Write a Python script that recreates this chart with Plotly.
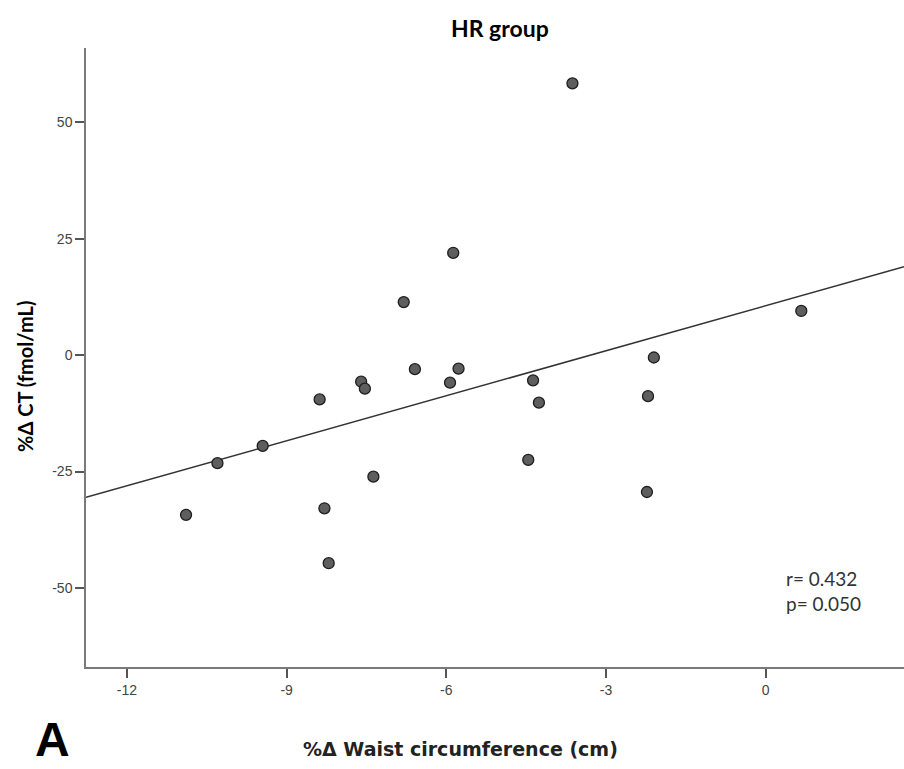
import numpy as np
import plotly.graph_objects as go

# Data
waist_change = [-3.63, -5.87, -6.80, 0.67, -2.10, -6.59, -5.77, -5.93, -4.37, -4.26, -4.46,
                -2.21, -2.23, -7.60, -7.53, -8.38, -9.45, -10.30, -7.37, -10.89, -8.29, -8.21]
ct_change = [58.4, 22.0, 11.4, 9.5, -0.5, -3.0, -2.9, -5.9, -5.4, -10.2, -22.5,
             -8.8, -29.4, -5.7, -7.2, -9.5, -19.5, -23.2, -26.1, -34.3, -32.9, -44.7]
x_ticks = [-12, -9, -6, -3, 0]
y_ticks = [-50, -25, 0, 25, 50]
x_range = [-12.77, 2.6]
y_range = [-67.0, 66.0]
title_text = "HR group"
x_title = "%Δ Waist circumference (cm)"
y_title = "%Δ CT (fmol/mL)"
stats_lines = ["r= 0.432", "p= 0.050"]
panel_label = "A"

# linear fit across the full x axis
slope, intercept = np.polyfit(waist_change, ct_change, 1)
fit_x = np.array(x_range)
fit_y = slope * fit_x + intercept

W, H = 904, 769
L, R, T, B = 86, 0, 48, 102
pw, ph = W - L - R, H - T - B


def px(xp):
    return (xp - L) / pw


def py(yp):
    return (H - B - yp) / ph


fig = go.Figure()
fig.add_trace(go.Scatter(x=fit_x, y=fit_y, mode="lines",
                         line=dict(color="#333333", width=1.5), hoverinfo="skip"))
fig.add_trace(go.Scatter(x=waist_change, y=ct_change, mode="markers",
                         marker=dict(size=11, color="#5e5e5e",
                                     line=dict(color="#1e1e1e", width=1.3))))

axis_common = dict(showgrid=False, zeroline=False, showline=True, linecolor="#7a7a7a",
                   linewidth=1.5, ticks="outside", ticklen=9, tickcolor="#555555",
                   tickwidth=1.5, tickfont=dict(family="Liberation Sans", size=14, color="#444444"))

fig.update_layout(
    width=W, height=H,
    margin=dict(l=L, r=R, t=T, b=B),
    paper_bgcolor="white", plot_bgcolor="white",
    showlegend=False,
    xaxis=dict(range=x_range, tickvals=x_ticks, ticktext=[str(v) for v in x_ticks], **axis_common),
    yaxis=dict(range=y_range, tickvals=y_ticks, ticktext=[str(v) for v in y_ticks], **axis_common),
)

annots = [
    dict(text=f"<b>{title_text}</b>", x=px(500), y=py(28), xref="paper", yref="paper",
         showarrow=False, font=dict(family="Lato", size=23, color="black"),
         xanchor="center", yanchor="middle"),
    dict(text=f"<b>{y_title}</b>", x=px(25), y=py(377), xref="paper", yref="paper",
         showarrow=False, textangle=-90, font=dict(family="Lato", size=20, color="black"),
         xanchor="center", yanchor="middle"),
    dict(text=f"<b>{x_title}</b>", x=px(460), y=py(749), xref="paper", yref="paper",
         showarrow=False, font=dict(family="DejaVu Sans", size=19, color="#222222"),
         xanchor="center", yanchor="middle"),
    dict(text=f"<b>{panel_label}</b>", x=px(52), y=py(768), xref="paper", yref="paper",
         showarrow=False, font=dict(family="Liberation Sans", size=48, color="black"),
         xanchor="center", yanchor="bottom"),
    dict(text="<br>".join(stats_lines), x=px(784), y=py(591), xref="paper", yref="paper",
         showarrow=False, align="left", font=dict(family="Lato", size=19, color="#333333"),
         xanchor="left", yanchor="middle"),
]
fig.update_layout(annotations=annots)

fig.write_html("out.html", config={"displayModeBar": False},
               post_script="document.body.style.margin='0';document.body.style.overflow='hidden';")
